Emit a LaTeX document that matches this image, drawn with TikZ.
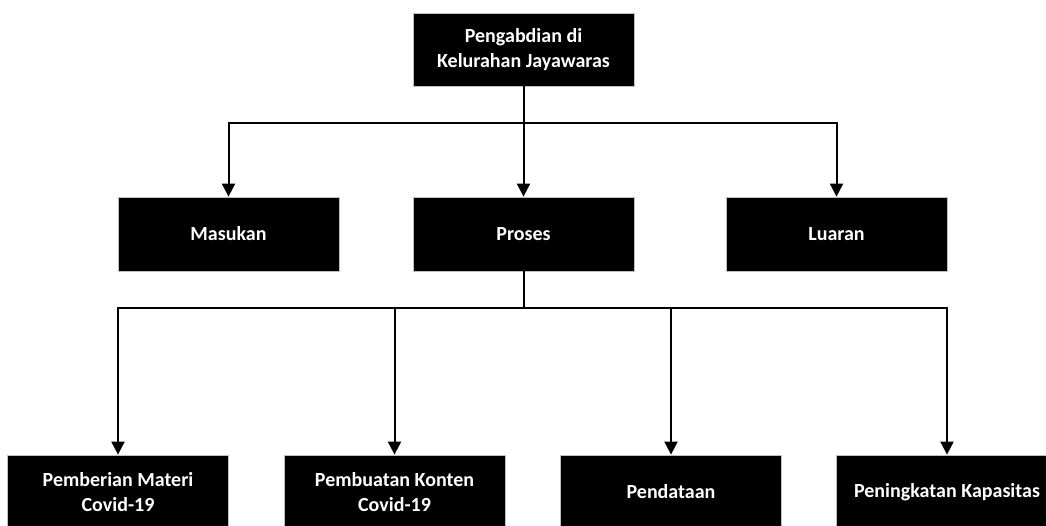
\documentclass[tikz,border=0pt]{standalone}
\usepackage{fontspec}
\setmainfont{Carlito}
\usetikzlibrary{arrows.meta,calc}
\begin{document}
\begin{tikzpicture}[x=1pt,y=-1pt,
  box/.style={fill=black, draw=black!25, line width=0.8pt, text=white,
    font=\fontsize{20}{24.5}\selectfont\bfseries, align=center,
    minimum width=221pt, minimum height=74pt, inner sep=0pt},
  conn/.style={line width=2pt},
  arr/.style={line width=2pt, -{Triangle[width=13pt,length=13pt]}}]
\useasboundingbox (0,0) rectangle (1046,525);
\clip (0,0) rectangle (1046,525);
\node[box, minimum height=73pt] (top) at (523.5,49.5) {Pengabdian di\\Kelurahan Jayawaras};
\node[box] (mas) at (228.5,234) {Masukan};
\node[box] (pro) at (523.5,234) {Proses};
\node[box] (lua) at (836.5,234) {Luaran};
\node[box] (b1) at (118,492) {Pemberian Materi\\Covid-19};
\node[box] (b2) at (394.5,492) {Pembuatan Konten\\Covid-19};
\node[box] (b3) at (671,492) {Pendataan};
\node[box] (b4) at (947,492) {Peningkatan Kapasitas};
\coordinate (j1) at (523.5,123);
\coordinate (j2) at (523.5,308);
\draw[conn] (top.south) -- (j1);
\draw[arr] (j1) -| (mas.north);
\draw[arr] (j1) -- (pro.north);
\draw[arr] (j1) -| (lua.north);
\draw[conn] (pro.south) -- (j2);
\draw[arr] (j2) -| (b1.north);
\draw[arr] (j2) -| (b2.north);
\draw[arr] (j2) -| (b3.north);
\draw[arr] (j2) -| (b4.north);
\end{tikzpicture}
\end{document}
